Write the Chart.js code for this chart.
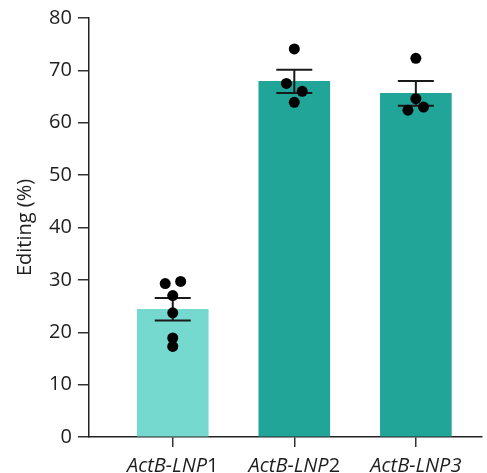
<!DOCTYPE html>
<html>
<head>
<meta charset="utf-8">
<script src="https://cdn.jsdelivr.net/npm/chart.js@4.4.0/dist/chart.umd.min.js"></script>
<style>
  html, body { margin: 0; padding: 0; background: #fff; overflow: hidden; height: 473px; }
  canvas { display: block; }
</style>
</head>
<body>
<canvas id="grafico" width="487" height="489"></canvas>
<script>
// grupos y medidas
const categorias = ["ActB-LNP1", "ActB-LNP2", "ActB-LNP3"];
const sufijoRecto = [1, 1, 0]; // cuántos caracteres finales van sin cursiva
const medias = [24.4, 67.9, 65.6];
const errores = [2.15, 2.2, 2.35]; // SEM
const puntos = [
  [29.3, 29.7, 27.0, 23.7, 18.9, 17.3],
  [74.1, 67.5, 66.0, 63.9],
  [72.3, 64.6, 62.4, 63.0]
];
const desplaz = [
  [-0.062, 0.065, 0, 0, 0, 0],
  [0, -0.065, 0.065, 0],
  [0, 0, -0.065, 0.063]
];
const ticksY = [0, 10, 20, 30, 40, 50, 60, 70, 80];

const colores = ["#76d9d0", "#22a599", "#22a599"];
const fuente = "'Open Sans', 'Noto Sans', sans-serif";
const tinta = "#1e1e1e";
const tam = 20;
const sepX = 9; // separación entre marca y etiqueta en el eje x

const datosBarras = medias.map((v, i) => ({ x: i, y: v }));
const datosPuntos = [];
puntos.forEach((grupo, i) => {
  grupo.forEach((v, j) => datosPuntos.push({ x: i + desplaz[i][j], y: v }));
});

// barras de error (media ± SEM), encima de las barras y debajo de los puntos
const barrasError = {
  id: "barrasError",
  afterDatasetDraw(chart, args) {
    if (args.index !== 0) return;
    const { ctx, scales: { x, y } } = chart;
    ctx.save();
    ctx.strokeStyle = "#1a1a1a";
    ctx.lineWidth = 2;
    medias.forEach((m, i) => {
      const px = x.getPixelForValue(i);
      const arriba = y.getPixelForValue(m + errores[i]);
      const abajo = y.getPixelForValue(m - errores[i]);
      ctx.beginPath();
      ctx.moveTo(px, arriba); ctx.lineTo(px, abajo);
      ctx.moveTo(px - 18, arriba); ctx.lineTo(px + 18, arriba);
      ctx.moveTo(px - 18, abajo); ctx.lineTo(px + 18, abajo);
      ctx.stroke();
    });
    ctx.restore();
  }
};

// etiquetas del eje x con parte en cursiva y parte recta
const etiquetasX = {
  id: "etiquetasX",
  afterDraw(chart) {
    const { ctx, scales: { x }, chartArea } = chart;
    const y0 = chartArea.bottom + 10 + sepX;
    ctx.save();
    ctx.fillStyle = tinta;
    ctx.textBaseline = "top";
    ctx.textAlign = "left";
    categorias.forEach((txt, i) => {
      const corte = txt.length - sufijoRecto[i];
      const cursiva = txt.slice(0, corte);
      const recta = txt.slice(corte);
      ctx.font = `italic ${tam}px ${fuente}`;
      const w1 = ctx.measureText(cursiva).width;
      ctx.font = `${tam}px ${fuente}`;
      const w2 = ctx.measureText(recta).width;
      const px = x.getPixelForValue(i) - (w1 + w2) / 2;
      ctx.font = `italic ${tam}px ${fuente}`;
      ctx.fillText(cursiva, px, y0);
      ctx.font = `${tam}px ${fuente}`;
      ctx.fillText(recta, px + w1, y0);
    });
    ctx.restore();
  }
};

new Chart(document.getElementById("grafico"), {
  type: "bar",
  data: {
    datasets: [{
      data: datosBarras,
      backgroundColor: colores,
      borderWidth: 0,
      barThickness: 71,
      order: 2
    }, {
      type: "scatter",
      data: datosPuntos,
      backgroundColor: "#000",
      borderWidth: 0,
      pointRadius: 5.5,
      order: 1
    }]
  },
  options: {
    responsive: false,
    animation: false,
    layout: { padding: { top: 15, right: 0, bottom: 0, left: 13 } },
    plugins: { legend: { display: false }, tooltip: { enabled: false } },
    scales: {
      x: {
        type: "linear",
        offset: false,
        min: -0.69,
        max: 2.54,
        grid: { offset: false, drawOnChartArea: false, tickLength: 10, color: "#333", lineWidth: 1.5 },
        border: { color: "#222", width: 1.5 },
        ticks: {
          stepSize: 1,
          includeBounds: false,
          padding: sepX,
          color: "transparent",
          font: { family: fuente, size: tam, style: "italic" },
          callback: v => categorias[v] ?? ""
        }
      },
      y: {
        min: 0,
        max: 80,
        afterBuildTicks: s => { s.ticks = ticksY.map(v => ({ value: v })); },
        grid: { drawOnChartArea: false, tickLength: 11, color: "#333", lineWidth: 1.5 },
        border: { color: "#222", width: 1.5 },
        ticks: { color: tinta, padding: 6, font: { family: fuente, size: tam } },
        title: {
          display: true,
          text: "Editing (%)",
          color: tinta,
          padding: { top: 0, bottom: 6 },
          font: { family: fuente, size: tam }
        }
      }
    }
  },
  plugins: [barrasError, etiquetasX]
});
</script>
</body>
</html>
